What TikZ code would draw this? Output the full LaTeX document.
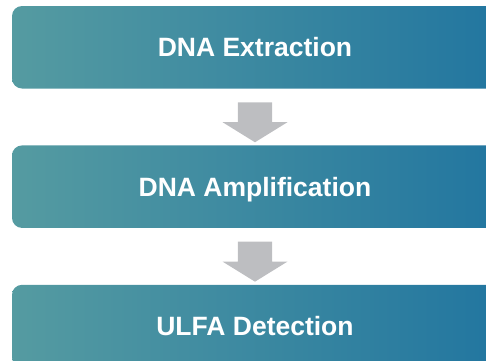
\documentclass[tikz,border=0pt]{standalone}
\usepackage{fontspec}
\setmainfont{Liberation Sans}
\usepackage{tikz}
\usetikzlibrary{calc}
\usetikzlibrary{positioning}
\usetikzlibrary{shapes.arrows}

\definecolor{stepleft}{HTML}{559BA1}
\definecolor{stepright}{HTML}{2276A0}
\definecolor{arrowgray}{HTML}{BDBEC1}

\begin{document}
\begin{tikzpicture}[x=1pt, y=1pt,
  stepbox/.style={rectangle, rounded corners=10pt, left color=stepleft, right color=stepright,
    minimum width=486pt, minimum height=82.5pt, inner sep=0pt, text=white,
    font=\bfseries\fontsize{26.5}{30}\selectfont, text height=19pt, text depth=0pt},
  flowarrow/.style={single arrow, fill=arrowgray, draw=none, rotate=-90,
    inner xsep=0pt, inner ysep=17pt, text height=0pt, text depth=0pt,
    minimum height=40pt, minimum width=64.6pt, single arrow head extend=15.3pt,
    single arrow tip angle=116.5}]
  \useasboundingbox (0,0) rectangle (486,-360);
  \node [stepbox] (extract) at (255,-47.25) {DNA Extraction};
  \node [stepbox, below=56.5pt of extract] (amplify) {DNA Amplification};
  \node [stepbox, below=56.5pt of amplify] (detect) {ULFA Detection};
  \node [flowarrow] (arrow1) at ($(extract.south)!0.5!(amplify.north)$) {};
  \node [flowarrow] (arrow2) at ($(amplify.south)!0.5!(detect.north)$) {};
\end{tikzpicture}
\end{document}
